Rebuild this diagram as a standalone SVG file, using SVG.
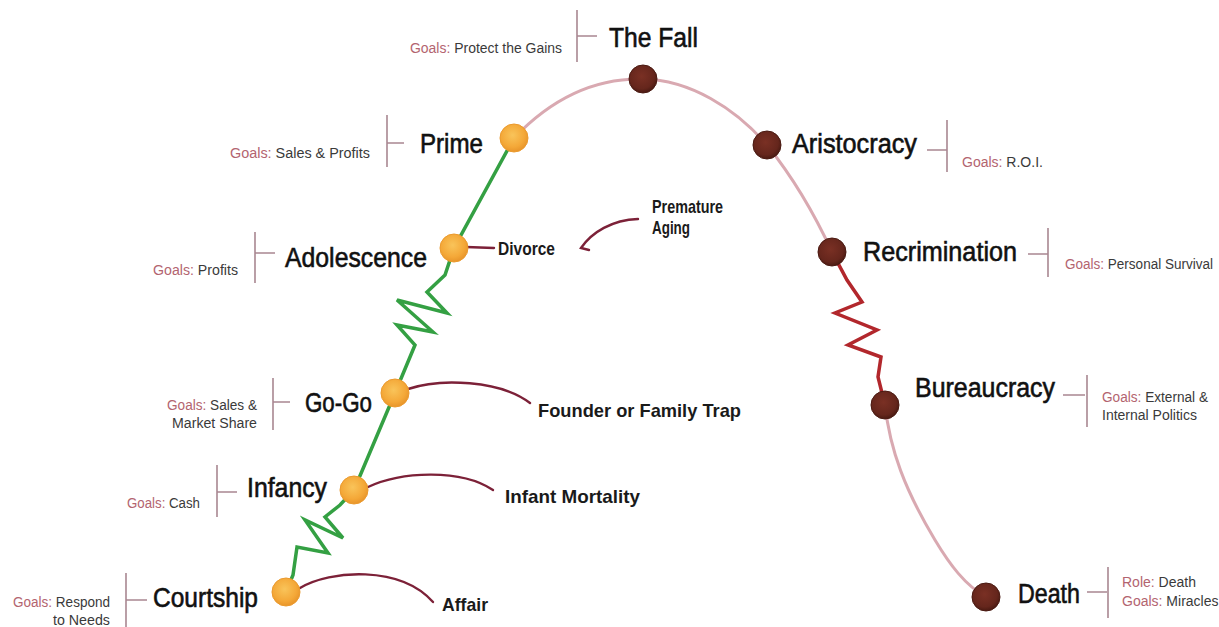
<svg xmlns="http://www.w3.org/2000/svg" width="1219" height="627" viewBox="0 0 1219 627">
<defs>
<radialGradient id="og" cx="45%" cy="40%" r="60%">
<stop offset="0" stop-color="#f9c45a"/>
<stop offset="0.7" stop-color="#f4a838"/>
<stop offset="1" stop-color="#e8952a"/>
</radialGradient>
<radialGradient id="bg" cx="45%" cy="40%" r="60%">
<stop offset="0" stop-color="#7a3024"/>
<stop offset="0.75" stop-color="#65261c"/>
<stop offset="1" stop-color="#4a1a12"/>
</radialGradient>
<style>
.big{font-family:"Liberation Sans Narrow","Liberation Sans",Arial,sans-serif;font-size:27px;fill:#111;stroke:#111;stroke-width:0.6;}
.mid{font-family:"Liberation Sans Narrow","Liberation Sans",Arial,sans-serif;font-size:19px;fill:#1a1a1a;font-weight:bold;}
.sm{font-family:"Liberation Sans Narrow","Liberation Sans",Arial,sans-serif;font-size:14px;fill:#3a3a3a;}
.gl{fill:#b3646f;}
.br{stroke:#a98791;stroke-width:1.6;fill:none;}
.green{stroke:#34a043;stroke-width:3.5;fill:none;stroke-linejoin:miter;}
.pink{stroke:#d9a9b1;stroke-width:3;fill:none;}
.red{stroke:#b2272c;stroke-width:3.5;fill:none;}
.conn{stroke:#7c2138;stroke-width:2.4;fill:none;stroke-linecap:round;}
.on{fill:url(#og);stroke:#eb9a2e;stroke-width:1;}
.bn{fill:url(#bg);stroke:#4a1a12;stroke-width:1;}
</style>
</defs>
<rect width="1219" height="627" fill="#ffffff"/>
<g id="connectors">
<path class="green" d="M286,592 L293,575 L297,547 L328,553 L305,520 L343,538 L325,517 L340,505 L354,490 L395,393 L415,345 L397,325 L433,332 L397,300 L447,313 L427,292 L445,275 L454,248 L514,138"/>
<path class="pink" d="M514,138 C555,95 600,78 643,79 C690,80 735,108 767,145 C795,180 815,215 832,252"/>
<path class="red" d="M832,252 L847,280 L862,302 L835,313 L877,330 L848,345 L881,357 L878,377 L885,405"/>
<path class="pink" d="M885,405 C890,450 905,490 935,540 C950,565 965,585 986,597"/>
<path class="conn" d="M466,247 L494,248"/>
<path class="conn" d="M638,219 C612,220 592,232 581,248 L589,250"/>
<path class="conn" d="M408,389 C440,378 500,380 530,403"/>
<path class="conn" d="M368,487 C400,472 460,468 493,490"/>
<path class="conn" d="M300,588 C330,570 400,565 433,602"/>
</g>
<g id="courtship">
<circle class="on" cx="286" cy="592" r="14"/>
<text class="big" x="153" y="607" textLength="105" lengthAdjust="spacingAndGlyphs">Courtship</text>
<path class="br" d="M126,573 V627 M126,600 H147"/>
<text class="sm" x="13" y="607" textLength="97" lengthAdjust="spacingAndGlyphs"><tspan class="gl">Goals:</tspan> Respond</text>
<text class="sm" x="53" y="625" textLength="57" lengthAdjust="spacingAndGlyphs">to Needs</text>
</g>
<g id="infancy">
<circle class="on" cx="354" cy="490" r="14"/>
<text class="big" x="247" y="497" textLength="80" lengthAdjust="spacingAndGlyphs">Infancy</text>
<path class="br" d="M217,465 V517 M217,492 H237"/>
<text class="sm" x="127" y="508" textLength="73" lengthAdjust="spacingAndGlyphs"><tspan class="gl">Goals:</tspan> Cash</text>
</g>
<g id="gogo">
<circle class="on" cx="395" cy="393" r="14"/>
<text class="big" x="305" y="412" textLength="67" lengthAdjust="spacingAndGlyphs">Go-Go</text>
<path class="br" d="M273,378 V430 M273,402 H290"/>
<text class="sm" x="167" y="410" textLength="90" lengthAdjust="spacingAndGlyphs"><tspan class="gl">Goals:</tspan> Sales &amp;</text>
<text class="sm" x="172" y="428" textLength="85" lengthAdjust="spacingAndGlyphs">Market Share</text>
</g>
<g id="adolescence">
<circle class="on" cx="454" cy="248" r="14"/>
<text class="big" x="285" y="267" textLength="142" lengthAdjust="spacingAndGlyphs">Adolescence</text>
<path class="br" d="M255,232 V283 M255,253 H275"/>
<text class="sm" x="153" y="275" textLength="85" lengthAdjust="spacingAndGlyphs"><tspan class="gl">Goals:</tspan> Profits</text>
</g>
<g id="prime">
<circle class="on" cx="514" cy="138" r="14"/>
<text class="big" x="420" y="153" textLength="63" lengthAdjust="spacingAndGlyphs">Prime</text>
<path class="br" d="M387,115 V167 M387,143 H404"/>
<text class="sm" x="230" y="158" textLength="140" lengthAdjust="spacingAndGlyphs"><tspan class="gl">Goals:</tspan> Sales &amp; Profits</text>
</g>
<g id="thefall">
<circle class="bn" cx="643" cy="79" r="14"/>
<text class="big" x="609" y="47" textLength="89" lengthAdjust="spacingAndGlyphs">The Fall</text>
<path class="br" d="M577,10 V62 M577,36 H597"/>
<text class="sm" x="410" y="53" textLength="152" lengthAdjust="spacingAndGlyphs"><tspan class="gl">Goals:</tspan> Protect the Gains</text>
</g>
<g id="aristocracy">
<circle class="bn" cx="767" cy="145" r="14"/>
<text class="big" x="792" y="153" textLength="125" lengthAdjust="spacingAndGlyphs">Aristocracy</text>
<path class="br" d="M927,150 H947 M947,120 V172"/>
<text class="sm" x="962" y="167" font-size="12.5"><tspan class="gl">Goals:</tspan> R.O.I.</text>
</g>
<g id="recrimination">
<circle class="bn" cx="832" cy="252" r="14"/>
<text class="big" x="863" y="261" textLength="154" lengthAdjust="spacingAndGlyphs">Recrimination</text>
<path class="br" d="M1028,254 H1048 M1048,228 V277"/>
<text class="sm" x="1065" y="269" textLength="148" lengthAdjust="spacingAndGlyphs"><tspan class="gl">Goals:</tspan> Personal Survival</text>
</g>
<g id="bureaucracy">
<circle class="bn" cx="885" cy="405" r="14"/>
<text class="big" x="915" y="397" textLength="140" lengthAdjust="spacingAndGlyphs">Bureaucracy</text>
<path class="br" d="M1063,395 H1085 M1087,375 V427"/>
<text class="sm" x="1102" y="402" textLength="106" lengthAdjust="spacingAndGlyphs"><tspan class="gl">Goals:</tspan> External &amp;</text>
<text class="sm" x="1102" y="420" textLength="95" lengthAdjust="spacingAndGlyphs">Internal Politics</text>
</g>
<g id="death">
<circle class="bn" cx="986" cy="597" r="14"/>
<text class="big" x="1018" y="603" textLength="62" lengthAdjust="spacingAndGlyphs">Death</text>
<path class="br" d="M1087,592 H1107 M1108,567 V618"/>
<text class="sm" x="1122" y="587" font-size="12"><tspan class="gl">Role:</tspan> Death</text>
<text class="sm" x="1122" y="606" font-size="13"><tspan class="gl">Goals:</tspan> Miracles</text>
</g>
<g id="divorce">
<text class="mid" x="498" y="255" font-size="17" textLength="57" lengthAdjust="spacingAndGlyphs">Divorce</text>
</g>
<g id="premature-aging">
<text class="mid" x="652" y="213" font-size="18" textLength="71" lengthAdjust="spacingAndGlyphs">Premature</text>
<text class="mid" x="652" y="234" font-size="18" textLength="38" lengthAdjust="spacingAndGlyphs">Aging</text>
</g>
<g id="founder-trap">
<text class="mid" x="538" y="417" textLength="203" lengthAdjust="spacingAndGlyphs">Founder or Family Trap</text>
</g>
<g id="infant-mortality">
<text class="mid" x="505" y="503" textLength="135" lengthAdjust="spacingAndGlyphs">Infant Mortality</text>
</g>
<g id="affair">
<text class="mid" x="442" y="611" font-size="20" textLength="46" lengthAdjust="spacingAndGlyphs">Affair</text>
</g>
</svg>
